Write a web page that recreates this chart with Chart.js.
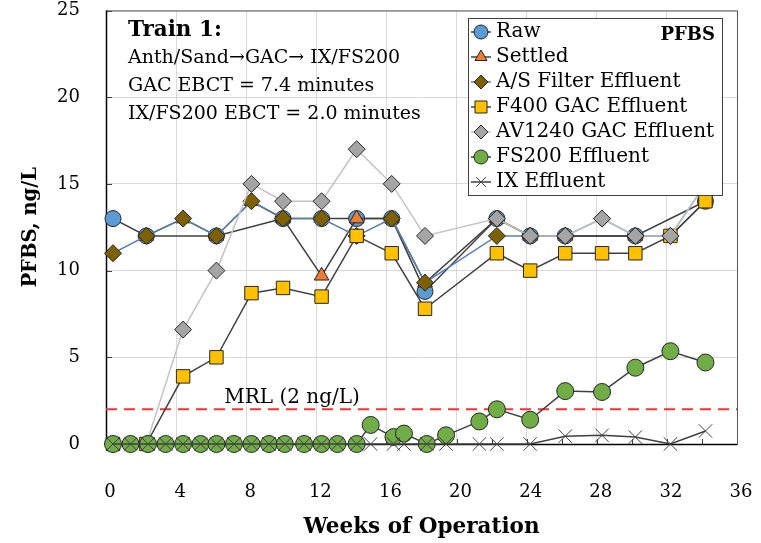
<!DOCTYPE html>
<html>
<head>
<meta charset="utf-8">
<script src="https://cdn.jsdelivr.net/npm/chart.js@4.4.0/dist/chart.umd.min.js"></script>
<style>
  html, body { margin: 0; padding: 0; background: #fff; }
  canvas { display: block; }
</style>
</head>
<body>
<canvas id="pfbsChart" width="761" height="543"></canvas>
<script>
/* PFBS — Train 1 breakthrough, weeks of operation */

// sampling weeks for the process-train points
const mainWeeks = [0.4, 2.3, 4.4, 6.3, 8.3, 10.1, 12.3, 14.3, 16.3, 18.2, 22.3, 24.2, 26.2, 28.3, 30.2, 32.2, 34.2];
const rawVals     = [13, 12, null, 12, null, 13, 13, 13, 13, 8.8, 13, 12, 12, null, 12, null, 14];
const settledVals = [null, 12, 13, 12, 14, 13, 9.7, 13, 13, 9.3, 13, 12, 12, null, 12, 12, 14];
const asVals      = [11, 12, 13, 12, 14, 13, 13, 12, 13, 9.3, 12, 12, 12, 13, 12, 12, 15];
const f400Vals    = [0, 0, 3.9, 5.0, 8.7, 9.0, 8.5, 12, 11, 7.8, 11, 10, 11, 11, 11, 12, 14];
const av1240Vals  = [0, 0, 6.6, 10, 15, 14, 14, 17, 15, 12, 13, 12, 12, 13, 12, 12, 15];

// weekly sampling for the FS200 / IX effluents
const ixWeeks = [0.4, 1.4, 2.4, 3.4, 4.4, 5.4, 6.3, 7.3, 8.3, 9.3, 10.2, 11.3, 12.3, 13.2, 14.3,
                 15.1, 16.4, 17.0, 18.3, 19.4, 21.3, 22.3, 24.2, 26.2, 28.3, 30.2, 32.2, 34.2];
const fs200Vals = [0, 0, 0, 0, 0, 0, 0, 0, 0, 0, 0, 0, 0, 0, 0,
                   1.1, 0.4, 0.6, 0, 0.5, 1.3, 2.0, 1.4, 3.05, 3.0, 4.4, 5.35, 4.7];
const ixVals    = [0, 0, 0, 0, 0, 0, 0, 0, 0, 0, 0, 0, 0, 0, 0,
                   0, 0, 0, 0, 0, 0, 0, 0, 0.45, 0.5, 0.4, 0, 0.75];

const mrlValue  = 2;
const mrlLabel  = 'MRL (2 ng/L)';
const xTicks    = [0, 4, 8, 12, 16, 20, 24, 28, 32, 36];
const yTicks    = [0, 5, 10, 15, 20, 25];
const noteLines = ['Train 1:', 'Anth/Sand\u2192GAC\u2192 IX/FS200', 'GAC EBCT = 7.4 minutes', 'IX/FS200 EBCT = 2.0 minutes'];

const SERIF  = "'DejaVu Serif', serif";
const EDGE   = '#262626';
const DARK   = '#404040';

const pts = (xs, ys) => xs.map((x, i) => ({ x, y: ys[i] }));

const series = [
  { label: 'Raw',                 data: pts(mainWeeks, rawVals),     style: 'circle',   fill: '#5B9BD5', line: DARK,      r: 8 },
  { label: 'Settled',             data: pts(mainWeeks, settledVals), style: 'triangle', fill: '#ED7D31', line: DARK,      r: 8.5 },
  { label: 'A/S Filter Effluent', data: pts(mainWeeks, asVals),      style: 'rectRot',  fill: '#7F6000', line: '#5582B4', r: 8.5 },
  { label: 'F400 GAC Effluent',   data: pts(mainWeeks, f400Vals),    style: 'rect',     fill: '#FFC000', line: DARK,      r: 9.5 },
  { label: 'AV1240 GAC Effluent', data: pts(mainWeeks, av1240Vals),  style: 'rectRot',  fill: '#A5A5A5', line: '#C4C4C4', r: 8.5 },
  { label: 'FS200 Effluent',      data: pts(ixWeeks, fs200Vals),     style: 'circle',   fill: '#70AD47', line: DARK,      r: 8.5 },
  { label: 'IX Effluent',         data: pts(ixWeeks, ixVals),        style: 'crossRot', fill: DARK,      line: DARK,      r: 9.5 }
];

const datasets = series.map((s, i) => ({
  label: s.label,
  data: s.data,
  showLine: true,
  spanGaps: true,
  borderColor: s.line,
  borderWidth: 1.5,
  pointStyle: s.style,
  pointRadius: s.r,
  pointBackgroundColor: s.fill,
  pointBorderColor: s.style === 'crossRot' ? DARK : EDGE,
  pointBorderWidth: 1,
  clip: false,
  order: series.length - i
}));

datasets.push({
  label: 'MRL',
  data: [{ x: 0, y: mrlValue }, { x: 36, y: mrlValue }],
  showLine: true,
  borderColor: '#FF3030',
  borderWidth: 2,
  borderDash: [11, 7],
  pointRadius: 0,
  order: 20
});

// legend marker drawn by hand so it matches the chart markers
function marker(ctx, style, x, y, r, fill, stroke) {
  ctx.save();
  ctx.fillStyle = fill; ctx.strokeStyle = stroke; ctx.lineWidth = 1;
  ctx.beginPath();
  if (style === 'circle') {
    ctx.arc(x, y, r, 0, Math.PI * 2);
  } else if (style === 'triangle') {
    for (let k = 0; k < 3; k++) {
      const a = k * 2 * Math.PI / 3;
      const px = x + Math.sin(a) * r, py = y - Math.cos(a) * r;
      k ? ctx.lineTo(px, py) : ctx.moveTo(px, py);
    }
    ctx.closePath();
  } else if (style === 'rectRot') {
    ctx.moveTo(x, y - r); ctx.lineTo(x + r, y); ctx.lineTo(x, y + r); ctx.lineTo(x - r, y); ctx.closePath();
  } else if (style === 'rect') {
    const h = r * Math.SQRT1_2;
    ctx.rect(x - h, y - h, 2 * h, 2 * h);
  } else if (style === 'crossRot') {
    const h = r * Math.SQRT1_2;
    ctx.moveTo(x - h, y - h); ctx.lineTo(x + h, y + h);
    ctx.moveTo(x + h, y - h); ctx.lineTo(x - h, y + h);
    ctx.stroke(); ctx.restore(); return;
  }
  ctx.fill(); ctx.stroke();
  ctx.restore();
}

const extras = {
  id: 'extras',
  beforeDatasetsDraw(chart) {
    const { ctx, chartArea: a, scales: { x, y } } = chart;
    ctx.save();
    // inside tick marks
    ctx.strokeStyle = DARK; ctx.lineWidth = 1;
    ctx.beginPath();
    for (let w = 2; w < 36; w += 2) {
      const px = Math.round(x.getPixelForValue(w)) + 0.5;
      ctx.moveTo(px, a.bottom); ctx.lineTo(px, a.bottom - 5);
    }
    yTicks.forEach(v => {
      const py = Math.round(y.getPixelForValue(v)) + 0.5;
      ctx.moveTo(a.left, py); ctx.lineTo(a.left + 6, py);
    });
    ctx.stroke();
    // plot frame
    ctx.strokeStyle = '#595959';
    ctx.strokeRect(a.left + 0.5, a.top + 0.5, a.right - a.left, a.bottom - a.top);
    ctx.strokeStyle = '#000'; ctx.lineWidth = 1.5;
    ctx.beginPath();
    ctx.moveTo(a.left + 0.5, a.top); ctx.lineTo(a.left + 0.5, a.bottom + 0.5); ctx.lineTo(a.right, a.bottom + 0.5);
    ctx.stroke();

    // MRL label
    ctx.fillStyle = '#000';
    ctx.font = `20px ${SERIF}`;
    ctx.textAlign = 'center'; ctx.textBaseline = 'middle';
    ctx.fillText(mrlLabel, 292, y.getPixelForValue(mrlValue) - 12);

    // train note
    ctx.textAlign = 'left';
    noteLines.forEach((t, i) => {
      ctx.font = i === 0 ? `bold 21.5px ${SERIF}` : `19px ${SERIF}`;
      ctx.fillText(t, 128, 30 + i * 28);
    });
    ctx.restore();
  },
  afterDraw(chart) {
    const { ctx } = chart;
    const bx = 468, by = 18, bw = 254, bh = 177;
    ctx.save();
    ctx.fillStyle = '#fff';
    ctx.fillRect(bx, by, bw, bh);
    ctx.strokeStyle = DARK; ctx.lineWidth = 1;
    ctx.strokeRect(bx + 0.5, by + 0.5, bw, bh);
    ctx.font = `20px ${SERIF}`;
    ctx.textAlign = 'left'; ctx.textBaseline = 'middle';
    series.forEach((s, i) => {
      const yy = 32 + i * 25;
      ctx.strokeStyle = s.line; ctx.lineWidth = 1.5;
      ctx.beginPath(); ctx.moveTo(471, yy); ctx.lineTo(491, yy); ctx.stroke();
      marker(ctx, s.style, 481, yy, s.style === 'rect' ? 8.5 : 7, s.fill, s.style === 'crossRot' ? DARK : EDGE);
      ctx.fillStyle = '#000';
      ctx.fillText(s.label, 496, yy);
    });
    ctx.font = `bold 18px ${SERIF}`;
    ctx.textAlign = 'right';
    ctx.fillText('PFBS', 715, 35);
    ctx.restore();
  }
};

new Chart(document.getElementById('pfbsChart').getContext('2d'), {
  type: 'scatter',
  data: { datasets },
  plugins: [extras],
  options: {
    responsive: false,
    animation: false,
    layout: { padding: { top: 9, right: 24, left: 0, bottom: 0 } },
    plugins: { legend: { display: false }, tooltip: { enabled: false } },
    scales: {
      x: {
        type: 'linear', min: 0, max: 36,
        afterFit: s => { s.height = 99; s.paddingLeft = 0; s.paddingRight = 0; },
        afterBuildTicks: s => { s.ticks = xTicks.map(v => ({ value: v })); },
        ticks: { font: { family: SERIF, size: 18 }, color: '#000', padding: 38, maxRotation: 0, labelOffset: 4 },
        grid: { color: '#D9D9D9', drawTicks: false },
        border: { display: false },
        title: { display: true, text: 'Weeks of Operation', color: '#000',
                 font: { family: SERIF, size: 21.5, weight: 'bold' }, padding: { top: 0, bottom: 3 } }
      },
      y: {
        min: 0, max: 25,
        afterFit: s => { s.width = 106; s.paddingTop = 0; s.paddingBottom = 0; },
        afterBuildTicks: s => { s.ticks = yTicks.map(v => ({ value: v })); },
        ticks: { font: { family: SERIF, size: 18 }, color: '#000', padding: 26 },
        grid: { color: '#D9D9D9', drawTicks: false },
        border: { display: false },
        title: { display: true, text: 'PFBS, ng/L', color: '#000',
                 font: { family: SERIF, size: 19.5, weight: 'bold' }, padding: { top: 19, bottom: 0 } }
      }
    }
  }
});
</script>
</body>
</html>
